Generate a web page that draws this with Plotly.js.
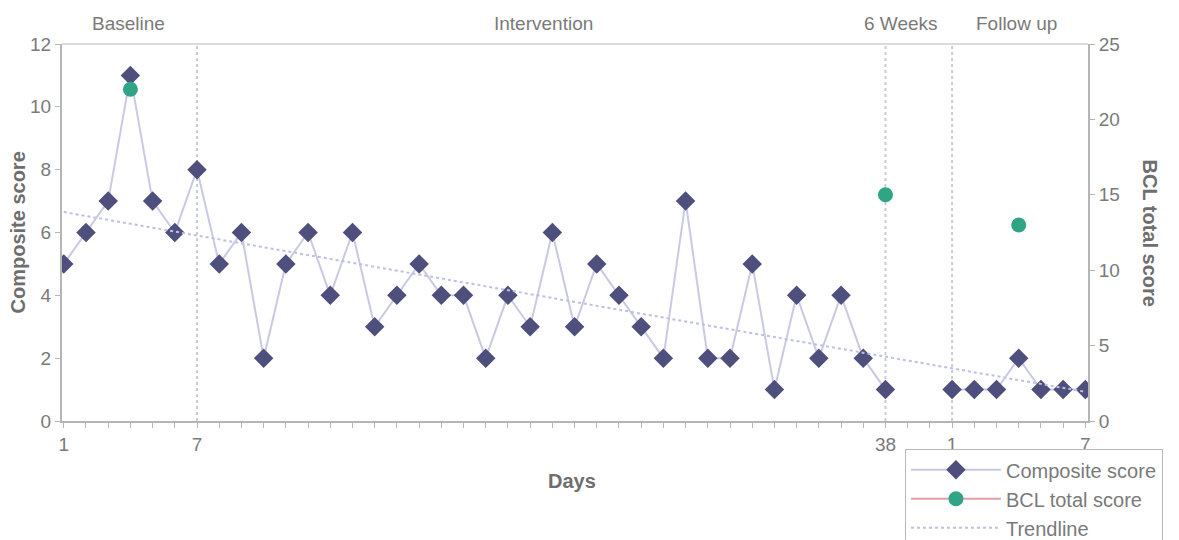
<!DOCTYPE html>
<html>
<head>
<meta charset="utf-8">
<script src="https://cdn.plot.ly/plotly-3.0.1.min.js"></script>
<style>html,body{margin:0;padding:0;background:#fff;}#chart{width:1179px;height:540px;}</style>
</head>
<body>
<div id="chart"></div>
<script>
// Day index along the x axis (1..47); 39-40 are the gap before follow-up
const dayIndex = Array.from({length: 47}, (_, i) => i + 1);
const compositeScore = [5,6,7,11,7,6,8,5,6,2,5,6,4,6,3,4,5,4,4,2,4,3,6,3,5,4,3,2,7,2,2,5,1,4,2,4,2,1,null,null,1,1,1,2,1,1,1];
const bclIndex = [4, 38, 44];
const bclScore = [22, 15, 13];
const trendX = [1, 47];
const trendY = [6.65, 0.93];
const tickPositions = [1, 7, 38, 41, 47];
const tickLabels = ["1", "7", "38", "1", "7"];
const phaseDividers = [7, 38, 41];
const phaseLabels = ["Baseline", "Intervention", "6 Weeks", "Follow up"];
const phaseLabelPos = [3.9, 22.6, 38.7, 43.9];

const tickvals = dayIndex;
const ticktext = dayIndex.map(d => { const k = tickPositions.indexOf(d); return k >= 0 ? tickLabels[k] : ""; });

// BCL series placed on the same day grid with gaps
const bclY = dayIndex.map(d => { const k = bclIndex.indexOf(d); return k >= 0 ? bclScore[k] : null; });

const FONT = "Liberation Sans, Arial, sans-serif";
const GREY = "#7a7a7a";

const traces = [
  {
    x: dayIndex, y: compositeScore, name: "Composite score", type: "scatter", mode: "lines+markers",
    connectgaps: false,
    line: {color: "#c9c9e3", width: 2},
    marker: {symbol: "diamond", size: 15, color: "#4f4f7e", line: {width: 0}},
    yaxis: "y"
  },
  {
    x: dayIndex, y: bclY, name: "BCL total score", type: "scatter", mode: "lines+markers",
    connectgaps: false,
    line: {color: "#e0a0a8", width: 2},
    marker: {symbol: "circle", size: 15, color: "#2fa585", line: {width: 0}},
    yaxis: "y2"
  },
  {
    x: trendX, y: trendY, name: "Trendline", type: "scatter", mode: "lines",
    line: {color: "#bcc0e4", width: 2, dash: "dot"},
    yaxis: "y"
  }
];

const shapes = phaseDividers.map(d => ({
  type: "line", xref: "x", yref: "paper", x0: d, x1: d, y0: 0, y1: 1,
  line: {color: "#c8ccd8", width: 2, dash: "dot"}, layer: "below"
}));
shapes.push({type: "line", xref: "paper", yref: "paper", x0: 0, x1: 1, y0: 1, y1: 1,
  line: {color: "#dcdcdc", width: 2}, layer: "below"});

const annotations = phaseLabels.map((t, i) => ({
  text: t, x: phaseLabelPos[i], xref: "x", y: 1, yref: "paper", yshift: 8,
  showarrow: false, font: {family: FONT, size: 19, color: GREY}, xanchor: "center", yanchor: "bottom"
}));
annotations.push(
  {text: "<b>Composite score</b>", xref: "paper", yref: "paper", x: 0, xshift: -45, y: 0.5, textangle: -90,
   xanchor: "center", yanchor: "middle",
   showarrow: false, font: {family: FONT, size: 20, color: "#6e6e6e"}},
  {text: "<b>BCL total score</b>", xref: "paper", yref: "paper", x: 1, xshift: 62, y: 0.5, textangle: 90,
   xanchor: "center", yanchor: "middle",
   showarrow: false, font: {family: FONT, size: 20, color: "#6e6e6e"}},
  {text: "<b>Days</b>", xref: "paper", yref: "paper", x: 0.497, y: 0, yshift: -60,
   xanchor: "center", yanchor: "middle",
   showarrow: false, font: {family: FONT, size: 20, color: "#6e6e6e"}}
);

const layout = {
  width: 1179, height: 540,
  margin: {l: 62, r: 91, t: 44, b: 119, autoexpand: false},
  paper_bgcolor: "#ffffff", plot_bgcolor: "#ffffff",
  font: {family: FONT, color: GREY},
  showlegend: true,
  legend: {
    x: 0.8216, y: -0.075, xanchor: "left", yanchor: "top",
    bordercolor: "#b8b8b8", borderwidth: 1, bgcolor: "#ffffff",
    font: {family: FONT, size: 20, color: GREY},
    itemwidth: 90, tracegroupgap: 0
  },
  xaxis: {
    range: [0.92, 47.12], showgrid: false, zeroline: false,
    tickmode: "array", tickvals: tickvals, ticktext: ticktext,
    ticks: "outside", ticklen: 5, tickcolor: "#b5b5b5", tickwidth: 1,
    showline: true, linecolor: "#b5b5b5", linewidth: 2,
    tickfont: {family: FONT, size: 19, color: GREY}
  },
  yaxis: {
    range: [0, 12], dtick: 2, showgrid: false, zeroline: false,
    ticks: "outside", ticklen: 5, tickcolor: "#b5b5b5",
    showline: true, linecolor: "#b5b5b5", linewidth: 2,
    tickfont: {family: FONT, size: 19, color: GREY}
  },
  yaxis2: {
    range: [0, 25], dtick: 5, overlaying: "y", side: "right", showgrid: false, zeroline: false,
    ticks: "outside", ticklen: 5, tickcolor: "#b5b5b5",
    showline: true, linecolor: "#b5b5b5", linewidth: 2,
    tickfont: {family: FONT, size: 19, color: GREY}
  },
  shapes: shapes,
  annotations: annotations
};

Plotly.newPlot("chart", traces, layout, {displayModeBar: false, staticPlot: true});
</script>
</body>
</html>
